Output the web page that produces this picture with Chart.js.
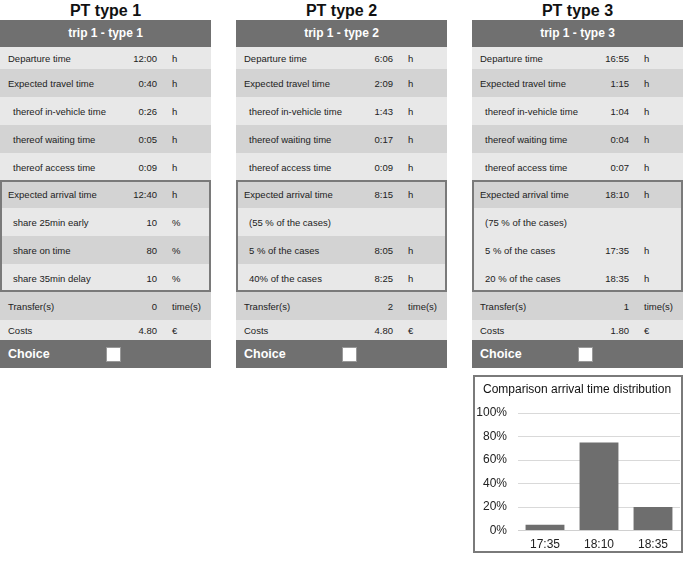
<!DOCTYPE html>
<html>
<head>
<meta charset="utf-8">
<script src="https://cdn.jsdelivr.net/npm/chart.js@4/dist/chart.umd.min.js"></script>
<style>
  body { margin: 0; width: 685px; height: 564px; background: #fff; font-family: "Liberation Sans", Arial, sans-serif; color: #222; position: relative; overflow: hidden; }
  .col { position: absolute; top: 0; width: 211px; }
  .title { height: 20px; line-height: 21px; text-align: center; font-weight: bold; font-size: 16px; color: #111; }
  .head { height: 27px; line-height: 27px; background: #707070; color: #fff; font-weight: bold; font-size: 12px; text-align: center; }
  .row { position: relative; font-size: 9.5px; }
  .row span { position: absolute; top: 50%; transform: translateY(-50%); white-space: nowrap; }
  .lab { left: 8px; }
  .sub { left: 13px; }
  .val { right: 54px; text-align: right; }
  .unit { left: 172px; }
  .L { background: #e8e8e8; }
  .D { background: #d3d3d3; }
  .box { position: relative; }
  .box .frame { position: absolute; left: 0; top: 0; right: 0; bottom: 0; border: 2px solid #7a7a7a; pointer-events: none; }
  .choice { height: 28px; background: #707070; position: relative; color: #fff; font-weight: bold; font-size: 12.5px; }
  .choice .t { position: absolute; left: 8px; top: 7px; }
  .choice .cb { position: absolute; left: 106px; top: 7px; width: 13px; height: 13px; background: #fff; border: 1px solid #999; }
  #chartBox { position: absolute; left: 473px; top: 375px; width: 206px; height: 174px; border: 2px solid #7a7a7a; background: #fff; }
  #chartTitle { position: absolute; left: 8px; top: 5px; font-size: 12px; color: #111; white-space: nowrap; }
</style>
</head>
<body>
<div id="cols"></div>
<div id="chartBox"><div id="chartTitle">Comparison arrival time distribution</div><canvas id="dist"></canvas></div>
<script>
// table content
const titles = ['PT type 1', 'PT type 2', 'PT type 3']
const heads = ['trip 1 - type 1', 'trip 1 - type 2', 'trip 1 - type 3']
const topLabels = ['Departure time', 'Expected travel time', 'thereof in-vehicle time', 'thereof waiting time', 'thereof access time']
const topSub = [false, false, true, true, true]
const topValues = [
    ['12:00', '0:40', '0:26', '0:05', '0:09'],
    ['6:06', '2:09', '1:43', '0:17', '0:09'],
    ['16:55', '1:15', '1:04', '0:04', '0:07']
]
const arrLabels = [
    ['Expected arrival time', 'share 25min early', 'share on time', 'share 35min delay'],
    ['Expected arrival time', '(55 % of the cases)', '5 % of the cases', '40% of the cases'],
    ['Expected arrival time', '(75 % of the cases)', '5 % of the cases', '20 % of the cases']
]
const arrValues = [
    ['12:40', '10', '80', '10'],
    ['8:15', '', '8:05', '8:25'],
    ['18:10', '', '17:35', '18:35']
]
const arrUnits = [
    ['h', '%', '%', '%'],
    ['h', '', 'h', 'h'],
    ['h', '', 'h', 'h']
]
const arrShade = [
    ['D', 'L', 'D', 'L'],
    ['D', 'L', 'D', 'L'],
    ['D', 'L', 'L', 'L']
]
const transfers = ['0', '2', '1']
const costs = ['4.80', '4.80', '1.80']

// chart content
const distLabels = ['17:35', '18:10', '18:35']
const distShares = [5, 75, 20]
const yTicks = [0, 20, 40, 60, 80, 100]

const colLeft = [0, 236, 472]
const topHeights = [22, 28, 28, 28, 27]

function makeRow(h, shade, label, sub, val, unit) {
    const r = document.createElement('div')
    r.className = 'row ' + shade
    r.style.height = h + 'px'
    r.innerHTML = `<span class="${sub ? 'sub' : 'lab'}">${label}</span>` +
        `<span class="val">${val}</span><span class="unit">${unit}</span>`
    return r
}

const cols = document.getElementById('cols')
titles.forEach((t, i) => {
    const c = document.createElement('div')
    c.className = 'col'
    c.style.left = colLeft[i] + 'px'
    c.innerHTML = `<div class="title">${t}</div><div class="head">${heads[i]}</div>`
    topLabels.forEach((l, j) => {
        c.appendChild(makeRow(topHeights[j], j % 2 ? 'D' : 'L', l, topSub[j], topValues[i][j], 'h'))
    })
    const box = document.createElement('div')
    box.className = 'box'
    arrLabels[i].forEach((l, j) => {
        box.appendChild(makeRow(28, arrShade[i][j], l, j > 0, arrValues[i][j], arrUnits[i][j]))
    })
    const fr = document.createElement('div')
    fr.className = 'frame'
    box.appendChild(fr)
    c.appendChild(box)
    c.appendChild(makeRow(28, 'D', 'Transfer(s)', false, transfers[i], 'time(s)'))
    c.appendChild(makeRow(20, 'L', 'Costs', false, costs[i], '€'))
    const ch = document.createElement('div')
    ch.className = 'choice'
    ch.innerHTML = '<span class="t">Choice</span><span class="cb"></span>'
    c.appendChild(ch)
    cols.appendChild(c)
})

new Chart(document.getElementById('dist'), {
    type: 'bar',
    data: {
        labels: distLabels,
        datasets: [{
            data: distShares,
            backgroundColor: '#6e6e6e',
            barPercentage: 0.72,
            categoryPercentage: 1
        }]
    },
    options: {
        responsive: true,
        maintainAspectRatio: false,
        animation: false,
        layout: { padding: { left: 1, right: 1, top: 36, bottom: -8 } },
        plugins: {
            legend: { display: false },
            tooltip: { enabled: false }
        },
        scales: {
            x: {
                grid: { display: false, drawTicks: false },
                border: { color: '#d0d0d0' },
                ticks: { color: '#222', padding: 7, font: { family: 'Liberation Sans', size: 12 } }
            },
            y: {
                min: 0,
                max: 100,
                afterBuildTicks: axis => { axis.ticks = yTicks.map(v => ({ value: v })) },
                afterFit: axis => { axis.width = 42 },
                grid: { color: '#d9d9d9', drawTicks: false },
                border: { display: false },
                ticks: {
                    color: '#222',
                    padding: 11,
                    font: { family: 'Liberation Sans', size: 12 },
                    callback: v => v + '%'
                }
            }
        }
    }
})
</script>
</body>
</html>
